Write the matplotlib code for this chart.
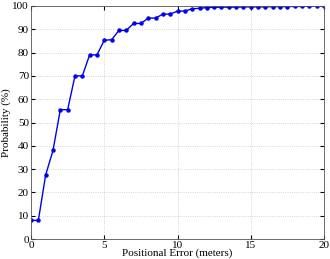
import matplotlib
matplotlib.use("Agg")
import matplotlib.pyplot as plt

# positional error (m) and cumulative probability (%)
error_m = [0, 0.5, 1, 1.5, 2, 2.5, 3, 3.5, 4, 4.5, 5, 5.5, 6, 6.5, 7, 7.5, 8, 8.5,
           9, 9.5, 10, 10.5, 11, 11.5, 12, 12.5, 13, 13.5, 14, 14.5, 15, 15.5,
           16, 16.5, 17, 17.5, 18, 18.5, 19, 19.5, 20]
prob = [8, 8, 27.5, 38, 55.5, 55.5, 70, 70, 79, 79, 85.3, 85.5, 89.5, 89.5, 92.5, 92.5,
        94.8, 94.8, 96.5, 96.5, 97.8, 97.8, 98.8, 99.0, 99.3, 99.4, 99.5, 99.5, 99.5,
        99.6, 99.6, 99.6, 99.6, 99.7, 99.7, 99.7, 99.8, 99.8, 99.9, 99.9, 100]

plt.rcParams["font.family"] = ["Liberation Serif", "DejaVu Serif"]
plt.rcParams["font.size"] = 8

fig = plt.figure(figsize=(3.3, 2.59), dpi=100)
ax = fig.add_axes([0.094, 0.077, 0.888, 0.9])

ax.plot(error_m, prob, color="#0000ee", linewidth=1.0, marker="o", markersize=2.2)

ax.set_xlim(0, 20)
ax.set_ylim(0, 100)
ax.set_xticks([0, 5, 10, 15, 20])
ax.set_yticks(range(0, 101, 10))
ax.grid(True, linestyle=":", color="#c8c8c8", linewidth=0.6)
ax.tick_params(direction="in", length=3, pad=1.5, top=True, right=True)
for s in ax.spines.values():
    s.set_color("#555555")
    s.set_linewidth(0.6)

ax.set_xlabel("Positional Error (meters)", labelpad=-1)
ax.set_ylabel("Probability (%)", labelpad=1)

plt.savefig("out.png", dpi=100)
